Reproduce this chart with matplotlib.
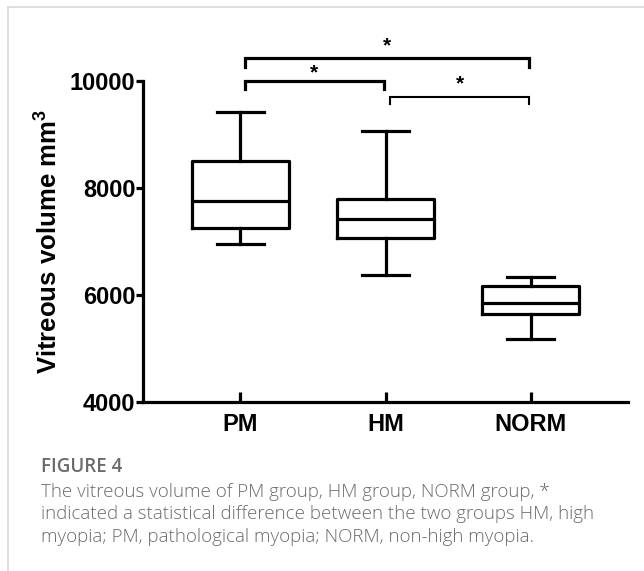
import matplotlib
matplotlib.use("Agg")
import matplotlib.pyplot as plt
from matplotlib.lines import Line2D

# box plot summaries
groups = ["PM", "HM", "NORM"]
whisker_low = [6947, 6374, 5172]
q1 = [7247, 7060, 5645]
median = [7757, 7415, 5856]
q3 = [8510, 7788, 6174]
whisker_high = [9426, 9071, 6342]

# significance brackets: (left group, right group, bar height, drop height, star height)
brackets = [(0, 2, 10430, 10261, 10650), (0, 1, 10000, 9850, 10150), (1, 2, 9706, 9570, 9950)]
bracket_lw = [2.3, 2.3, 1.5]

caption_head = "FIGURE 4"
caption_lines = ["The vitreous volume of PM group, HM group, NORM group, *",
                 "indicated a statistical difference between the two groups HM, high",
                 "myopia; PM, pathological myopia; NORM, non-high myopia."]

plt.rcParams['font.family'] = ['Liberation Sans', 'DejaVu Sans']
plt.rcParams['mathtext.fontset'] = 'custom'
plt.rcParams['mathtext.bf'] = 'Liberation Sans:bold'
plt.rcParams['mathtext.rm'] = 'Liberation Sans'

fig = plt.figure(figsize=(6.44, 5.71), dpi=100)
ax = fig.add_axes([143 / 644, 1 - 402 / 571, 485 / 644, 321 / 571])

stats = []
for i, g in enumerate(groups):
    stats.append(dict(label=g, whislo=whisker_low[i], q1=q1[i], med=median[i],
                      q3=q3[i], whishi=whisker_high[i], fliers=[]))

lw = 2.3
ax.bxp(stats, positions=range(len(groups)), widths=0.67, capwidths=0.32,
       showfliers=False,
       boxprops=dict(color='black', linewidth=lw),
       medianprops=dict(color='black', linewidth=lw),
       whiskerprops=dict(color='black', linewidth=lw),
       capprops=dict(color='black', linewidth=lw))

ax.set_xlim(-0.67, 2.67)
ax.set_ylim(4000, 10000)
ax.set_yticks([4000, 6000, 8000, 10000])
ax.set_xticks(range(len(groups)))
ax.set_xticklabels(groups)
for lab in ax.get_xticklabels() + ax.get_yticklabels():
    lab.set_fontweight('bold')
    lab.set_fontsize(17)

ax.spines['top'].set_visible(False)
ax.spines['right'].set_visible(False)
for s in ['left', 'bottom']:
    ax.spines[s].set_linewidth(lw)
ax.tick_params(axis='y', direction='out', length=5, width=lw, pad=0.5)
ax.tick_params(axis='x', direction='in', length=7, width=lw, pad=8)

ax.set_ylabel("Vitreous volume mm$^{\\mathbf{3}}$", fontsize=18.5, fontweight='bold', labelpad=6)

for (a, b, top, drop, star), blw in zip(brackets, bracket_lw):
    xa, xb = a + 0.03, b - 0.01
    ax.plot([xa, xa, xb, xb], [drop, top, top, drop], color='black', lw=blw,
            clip_on=False, solid_joinstyle='miter')
    ax.text((xa + xb) / 2, star, "*", ha='center', va='center', fontsize=15,
            fontweight='bold', clip_on=False)

# caption
fig.text(41 / 644, 1 - 467 / 571, caption_head, fontsize=13.5, color='#6b6b6b',
         family=['Open Sans', 'DejaVu Sans'], va='center', fontweight='semibold')
for k, line in enumerate(caption_lines):
    fig.text(41 / 644, 1 - (492 + 22.3 * k) / 571, line, fontsize=13.5, color='#6b6b6b',
             family=['Open Sans', 'DejaVu Sans'], va='center', fontweight='light')

# frame around the figure
fig.add_artist(Line2D([8 / 644, 1], [1 - 7 / 571, 1 - 7 / 571], color='#d9d9d9', lw=1.2,
                      transform=fig.transFigure))
fig.add_artist(Line2D([8 / 644, 8 / 644], [0, 1 - 7 / 571], color='#d9d9d9', lw=1.2,
                      transform=fig.transFigure))

fig.savefig("out.png", dpi=100)
